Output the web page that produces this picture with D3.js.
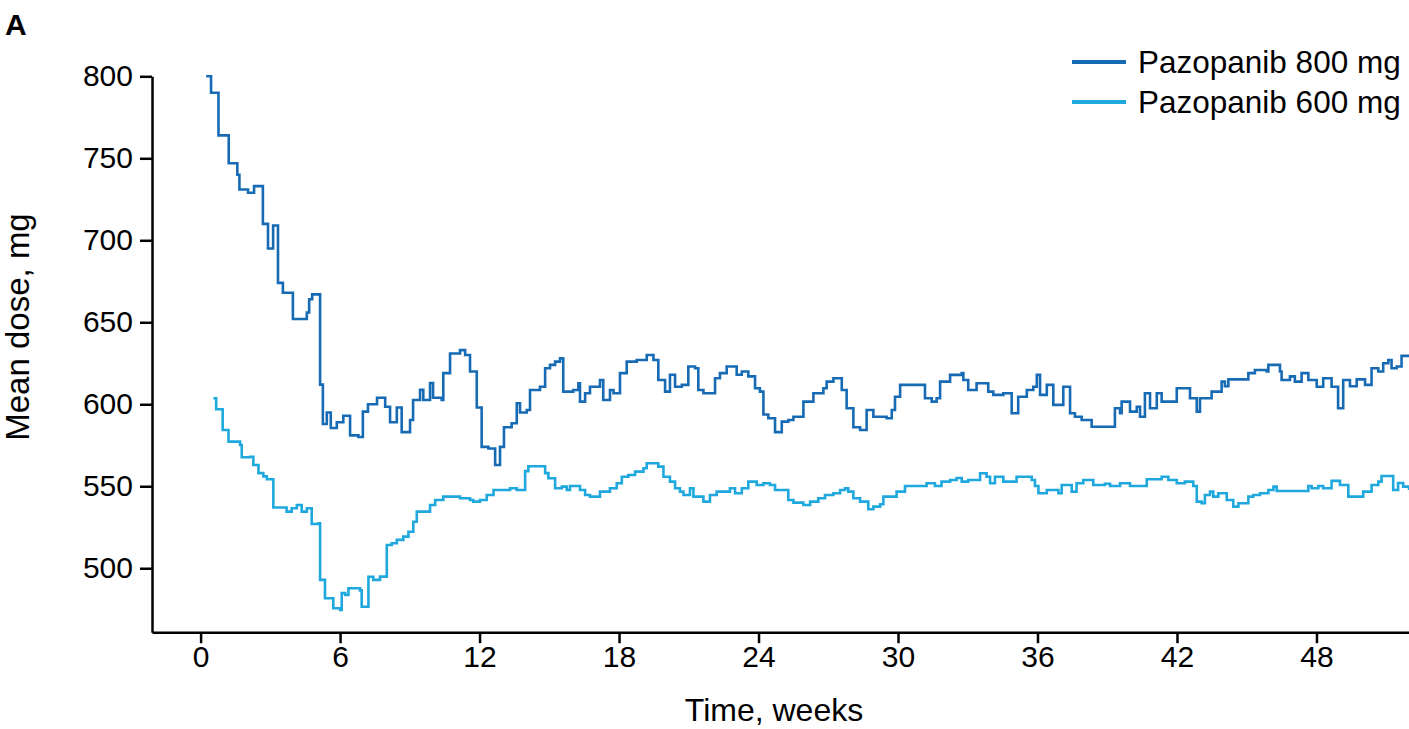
<!DOCTYPE html>
<html><head><meta charset="utf-8">
<script src="https://cdn.jsdelivr.net/npm/d3@7"></script>
<style>
html,body{margin:0;padding:0;background:#fff;}
text{font-family:"Liberation Sans",Arial,Helvetica,sans-serif;fill:#000;}
</style></head>
<body><svg id="chart" width="1409" height="729"></svg>
<script>
const seriesNames = ["Pazopanib 800 mg", "Pazopanib 600 mg"];
const seriesColors = ["#176ab4", "#1ea8de"];
const xTicks = [0, 6, 12, 18, 24, 30, 36, 42, 48];
const yTicks = [500, 550, 600, 650, 700, 750, 800];

const weeks800 = [0.24,0.45,0.77,1.21,1.58,1.67,2.04,2.30,2.68,2.90,3.12,3.33,3.54,3.97,4.57,4.67,4.80,5.14,5.26,5.43,5.60,5.86,6.14,6.43,6.79,6.98,7.20,7.59,7.94,8.15,8.44,8.65,9.01,9.14,9.44,9.58,9.87,10.00,10.37,10.44,10.73,11.16,11.38,11.59,11.88,12.09,12.38,12.67,12.88,13.05,13.38,13.60,13.74,14.03,14.17,14.60,14.82,15.03,15.25,15.46,15.60,16.03,16.25,16.32,16.54,16.75,17.18,17.32,17.61,17.76,18.04,18.33,18.76,19.19,19.48,19.69,19.98,20.19,20.41,20.70,20.98,21.27,21.41,21.63,22.13,22.34,22.63,23.06,23.28,23.56,23.85,24.06,24.21,24.42,24.71,25.00,25.28,25.50,25.93,26.36,26.79,26.93,27.22,27.58,27.79,28.08,28.37,28.65,28.94,29.51,29.73,29.87,30.09,31.16,31.45,31.66,31.81,32.24,32.74,32.81,33.02,33.38,33.88,34.10,34.53,34.89,35.17,35.54,35.82,35.97,36.11,36.40,36.68,37.11,37.40,37.61,37.90,38.33,39.33,39.55,39.62,39.98,40.27,40.41,40.62,40.84,41.13,41.34,41.99,42.56,42.85,42.99,43.49,43.92,44.06,44.21,45.07,45.35,45.86,45.93,46.43,46.50,46.86,47.07,47.36,47.65,48.01,48.29,48.65,48.93,49.15,49.44,49.73,50.09,50.37,50.66,50.87,51.09,51.23,51.45,51.66,51.98];
const dose800 = [800,790,764,747,740,731,729,733,710,695,709,674,668,652,656,664,667,612,588,595,585.5,589,593,581,580,595.5,600,604,598.5,589,598,583,590.4,602.6,608.8,602.6,613,604,602.6,619,631,633,630,620,598,574,573,563,574,586,588.4,600.6,595,596.5,608.7,610.7,622,624,626,628,607.7,608.7,612.8,601.6,606.7,610.7,614.8,602.6,608.7,606.7,619,626,627,630,627,614.8,607.7,618,610.7,611.8,623,622,608.7,606.7,615.9,619,623,618,620,617,609.8,607.7,593.8,591.5,583,589.4,590.4,592.4,601.6,606.7,609.8,613.8,615.9,608.7,597.6,586,584.3,596.5,592.4,591.5,596.5,604.6,611.8,603.7,601.6,603.7,613.8,617.9,619,614.8,608.7,612.8,607.7,605.7,606.7,594.5,604.6,608.7,610.7,617.9,605.7,611.8,599.6,610.7,594.5,592.4,590.4,586.3,597.6,594.5,601.6,595.5,598.5,592.4,606.7,597.6,606.7,601.6,609.8,603.7,595.5,603.7,607.7,613.8,611,615.2,619,620.9,620,624,620,614.8,617,613.8,619,614.8,610.7,615.9,610.7,597.6,614.8,611,615.2,611.8,622,620,625,627,622,623,629.5,630];

const weeks600 = [0.55,0.67,0.95,1.20,1.70,1.77,2.13,2.27,2.49,2.70,2.85,3.13,3.70,3.92,4.14,4.35,4.57,4.78,5.07,5.14,5.35,5.71,6.00,6.07,6.22,6.36,6.86,6.93,7.22,7.43,7.72,8.01,8.22,8.44,8.72,8.94,9.15,9.30,9.87,10.09,10.44,11.16,11.59,11.73,12.02,12.31,12.60,13.31,13.60,13.96,14.10,14.82,14.96,15.25,15.54,15.75,15.89,16.32,16.54,16.75,17.18,17.61,17.90,18.12,18.40,18.69,19.05,19.19,19.69,19.91,20.19,20.41,20.62,20.77,21.05,21.20,21.63,21.91,22.20,22.77,22.99,23.28,23.56,23.92,24.21,24.49,24.71,25.28,25.50,25.93,26.22,26.57,26.86,27.22,27.51,27.72,27.86,28.08,28.37,28.72,28.94,29.23,29.37,29.94,30.30,31.23,31.59,31.87,32.24,32.52,32.74,33.02,33.53,33.81,33.96,34.17,34.53,35.10,35.75,35.89,36.04,36.40,36.90,37.04,37.47,37.68,37.97,38.40,38.90,39.12,39.55,39.98,40.70,41.34,41.63,41.99,42.34,42.70,42.85,43.06,43.20,43.42,43.56,43.78,44.14,44.42,44.64,45.07,45.28,45.57,45.93,46.15,46.29,47.65,47.79,48.08,48.29,48.65,49.01,49.37,50.01,50.37,50.66,50.80,51.30,51.51,51.73,51.98];
const dose600 = [603.7,597,584.3,577.2,575.2,567.7,568,563,558,556,554.3,537,534.5,536.6,538.6,534.5,536.6,527,527.4,492.9,481.7,475.6,474.6,484.8,483.7,487.8,486.5,476.5,494.8,492.9,494.9,514.2,515.2,517.3,519.3,522.3,528.4,534.5,538.6,541.6,543.7,542.7,541.6,540.6,541.6,544.7,547.7,548.8,547.7,559.2,562.2,558,554.9,548.8,549.8,547.7,550.2,547.7,544.7,543.7,546.7,548.8,551.8,555.8,556.9,558.9,561,564,562,555.8,552.8,548.8,546.7,544.7,548.8,543.7,540.6,544.7,546.7,548.8,545.7,548.8,552.8,550.8,551.8,550.8,547.7,541.6,540,538.6,540.6,542.7,544.7,545.7,547.7,548.8,546.7,542.7,540.6,536,537.6,539,543.7,546.7,550.2,551.8,550.2,552.8,553.8,555,552.8,553.8,557.9,555.8,551.8,555.8,552.8,555.8,553.8,550.2,545.7,547.7,545.7,550.8,546.7,551.8,553.8,550.8,551.5,550.2,551.8,550.2,554.3,555.8,553.8,551.8,552.8,550.2,540.6,539.6,544.7,546.7,543.7,545.7,541.6,537.6,539.6,543.7,544.7,545.7,547.7,549.8,547.1,550.2,548.8,550.2,548.8,553.3,550.8,543.7,546.7,550.8,552.8,556.3,547.7,552,549.8,547.7];

const svg = d3.select("#chart");
const x = d3.scaleLinear().domain([-2.09, 51.98]).range([152, 1409]);
const y = d3.scaleLinear().domain([461, 800]).range([632.2, 76.3]);

const line = d3.line().x(d => x(d[0])).y(d => y(d[1])).curve(d3.curveStepAfter);
const data = [d3.zip(weeks800, dose800), d3.zip(weeks600, dose600)];

data.forEach((pts, i) => {
  svg.append("path").attr("d", line(pts)).attr("fill", "none")
    .attr("stroke", seriesColors[i]).attr("stroke-width", 2.6)
    .attr("stroke-linejoin", "miter");
});

const xAxis = svg.append("g").attr("transform", "translate(0,632.2)")
  .call(d3.axisBottom(x).tickValues(xTicks).tickSize(11).tickSizeOuter(0).tickPadding(6));
const yAxis = svg.append("g").attr("transform", "translate(152,0)")
  .call(d3.axisLeft(y).tickValues(yTicks).tickSize(12).tickSizeOuter(0).tickPadding(7));
[xAxis, yAxis].forEach(g => {
  g.select(".domain").attr("stroke", "#000").attr("stroke-width", 2.5);
  g.selectAll(".tick line").attr("stroke", "#000").attr("stroke-width", 2.5);
  g.selectAll(".tick text").attr("font-size", 30).attr("fill", "#000")
    .style("font-family", '"Liberation Sans",Arial,sans-serif');
});
xAxis.selectAll(".tick text").attr("dy", "0.71em").attr("y", 13.5);

svg.append("text").attr("x", 774).attr("y", 721).attr("text-anchor", "middle")
  .attr("font-size", 32).text("Time, weeks");
svg.append("text").attr("transform", "translate(29,327) rotate(-90)")
  .attr("text-anchor", "middle").attr("font-size", 33).text("Mean dose, mg");
svg.append("text").attr("x", 5).attr("y", 35).attr("font-size", 30)
  .attr("font-weight", "bold").text("A");

const legend = svg.append("g");
seriesNames.forEach((name, i) => {
  const ly = 62 + i * 40;
  legend.append("line").attr("x1", 1072).attr("x2", 1126).attr("y1", ly).attr("y2", ly)
    .attr("stroke", seriesColors[i]).attr("stroke-width", 4);
  legend.append("text").attr("x", 1138).attr("y", ly + 11).attr("font-size", 31.5).text(name);
});
</script></body></html>
